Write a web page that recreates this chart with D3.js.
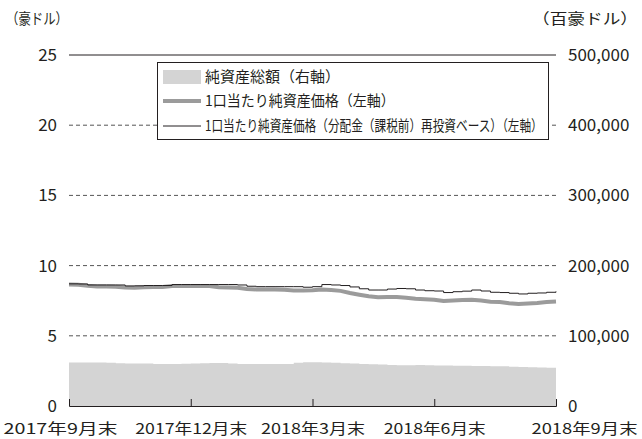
<!DOCTYPE html>
<html>
<head>
<meta charset="utf-8">
<script src="https://cdn.jsdelivr.net/npm/d3@7"></script>
<style>
  body { margin: 0; background: #fff; }
  text { font-family: "Noto Sans CJK JP", "Noto Sans", sans-serif; fill: #231f20; }
</style>
</head>
<body>
<div id="chart"></div>
<script>
// weekly dates (fridays)
var dates = ["2017-09-29","2017-10-06","2017-10-13","2017-10-20","2017-10-27","2017-11-03","2017-11-10","2017-11-17","2017-11-24",
  "2017-12-01","2017-12-08","2017-12-15","2017-12-22","2017-12-29","2018-01-05","2018-01-12","2018-01-19","2018-01-26",
  "2018-02-02","2018-02-09","2018-02-16","2018-02-23","2018-03-02","2018-03-09","2018-03-16","2018-03-23","2018-03-30",
  "2018-04-06","2018-04-13","2018-04-20","2018-04-27","2018-05-04","2018-05-11","2018-05-18","2018-05-25","2018-06-01",
  "2018-06-08","2018-06-15","2018-06-22","2018-06-29","2018-07-06","2018-07-13","2018-07-20","2018-07-27","2018-08-03",
  "2018-08-10","2018-08-17","2018-08-24","2018-08-31","2018-09-07","2018-09-14","2018-09-21","2018-09-28"];

// 純資産総額 (右軸, 百豪ドル)
var netAssets = [62000,62000,62000,61800,61500,61000,60500,60500,60500,60000,59800,59700,60200,60500,60800,61200,61200,60500,
  60000,59800,59800,59800,59800,59800,61500,62500,62500,62000,61500,61000,60500,60000,59500,59000,58500,58000,58000,58300,
  58000,57800,57700,57500,57300,57000,57000,56800,56500,56000,55600,55200,55000,54500,54200];

// 1口当たり純資産価格 (左軸)
var navPrice = [8.65,8.63,8.56,8.52,8.51,8.50,8.44,8.42,8.46,8.48,8.48,8.55,8.55,8.55,8.55,8.55,8.46,8.44,8.42,8.33,8.30,8.30,
  8.30,8.28,8.23,8.23,8.25,8.30,8.26,8.20,8.05,7.93,7.82,7.74,7.76,7.76,7.71,7.64,7.60,7.57,7.48,7.51,7.55,7.56,7.51,7.43,
  7.41,7.32,7.26,7.30,7.34,7.40,7.44];

// 1口当たり純資産価格 (分配金再投資ベース)
var navReinvest = [8.70,8.69,8.62,8.62,8.62,8.62,8.55,8.56,8.58,8.58,8.58,8.65,8.65,8.65,8.65,8.65,8.65,8.65,8.62,8.53,8.50,
  8.50,8.50,8.50,8.50,8.46,8.50,8.65,8.62,8.58,8.48,8.35,8.26,8.26,8.33,8.37,8.35,8.26,8.21,8.19,8.08,8.14,8.18,8.26,8.19,
  8.10,8.08,8.03,7.98,8.03,8.05,8.10,8.16];

var leftTicks = [0, 5, 10, 15, 20, 25];
var rightTicks = [0, 100000, 200000, 300000, 400000, 500000];
var xTickDates = ["2017-09-29", "2017-12-29", "2018-03-30", "2018-06-29", "2018-09-28"];
var xTickLabels = ["2017年9月末", "2017年12月末", "2018年3月末", "2018年6月末", "2018年9月末"];
var legendLabels = ["純資産総額（右軸）", "1口当たり純資産価格（左軸）", "1口当たり純資産価格（分配金（課税前）再投資ベース）（左軸）"];

var width = 642, height = 439;
var parse = d3.timeParse("%Y-%m-%d");

var svg = d3.select("#chart").append("svg")
    .attr("width", width)
    .attr("height", height);

var x = d3.scaleTime()
    .domain([parse(dates[0]), parse(dates[dates.length - 1])])
    .range([69, 556]);
var yL = d3.scaleLinear().domain([0, 25]).range([406, 55]);
var yR = d3.scaleLinear().domain([0, 500000]).range([406, 55]);

var data = dates.map(function(d, i) {
  return {date: parse(d), assets: netAssets[i], nav: navPrice[i], re: navReinvest[i]};
});

// gridlines
svg.append("g").selectAll("line")
  .data(leftTicks.slice(1))
  .enter().append("line")
    .attr("x1", 69).attr("x2", 556)
    .attr("y1", function(d) { return yL(d); })
    .attr("y2", function(d) { return yL(d); })
    .attr("stroke", function(d) { return d == 25 ? "#231f20" : "#555"; })
    .attr("stroke-width", 1)
    .attr("stroke-dasharray", function(d) { return d == 25 ? null : "4,3"; });

// area (right axis)
var area = d3.area()
    .x(function(d) { return x(d.date); })
    .y0(yR(0))
    .y1(function(d) { return yR(d.assets); })
    .curve(d3.curveStepAfter);
svg.append("path")
    .datum(data)
    .attr("d", area)
    .attr("fill", "#d4d4d4");

var navLine = d3.line()
    .x(function(d) { return x(d.date); })
    .y(function(d) { return yL(d.nav); });
svg.append("path")
    .datum(data)
    .attr("d", navLine)
    .attr("fill", "none")
    .attr("stroke", "#9b9b9b")
    .attr("stroke-width", 4);

var reLine = d3.line()
    .x(function(d) { return x(d.date); })
    .y(function(d) { return yL(d.re); })
    .curve(d3.curveStepAfter);
svg.append("path")
    .datum(data)
    .attr("d", reLine)
    .attr("fill", "none")
    .attr("stroke", "#231f20")
    .attr("stroke-width", 1);

// bottom axis
var labelShift = [-9, 0, 0, 0, 28];
var labelWidth = [114, 112, 104, 102, 106];
var xAxis = d3.axisBottom(x)
    .tickValues(xTickDates.map(parse))
    .tickFormat(function(d, i) { return xTickLabels[i]; })
    .tickSize(-7)
    .tickPadding(17);
var gx = svg.append("g")
    .attr("transform", "translate(0," + yL(0) + ")")
    .call(xAxis);
gx.select(".domain").attr("stroke", "#231f20");
gx.selectAll(".tick line").attr("stroke", "#231f20");
gx.selectAll(".tick text")
    .style("font-size", "15px")
    .attr("fill", "#231f20")
    .attr("x", function(d, i) { return labelShift[i]; })
    .attr("textLength", function(d, i) { return labelWidth[i]; })
    .attr("lengthAdjust", "spacingAndGlyphs");

// left axis
var gl = svg.append("g")
    .attr("transform", "translate(69,0)")
    .call(d3.axisLeft(yL).tickValues(leftTicks).tickSize(0).tickPadding(12));
gl.select(".domain").remove();
gl.selectAll(".tick text").style("font-size", "17px").attr("fill", "#231f20");

// right axis
var gr = svg.append("g")
    .attr("transform", "translate(556,0)")
    .call(d3.axisRight(yR).tickValues(rightTicks).tickFormat(d3.format(",")).tickSize(0).tickPadding(12));
gr.select(".domain").remove();
gr.selectAll(".tick text").style("font-size", "17px").attr("fill", "#231f20");

// unit labels
svg.append("text")
    .attr("x", 6).attr("y", 24)
    .style("font-size", "15px")
    .text("（豪ドル）")
    .attr("textLength", 62).attr("lengthAdjust", "spacingAndGlyphs");
svg.append("text")
    .attr("x", 532).attr("y", 24)
    .style("font-size", "15px")
    .text("（百豪ドル）")
    .attr("textLength", 106).attr("lengthAdjust", "spacingAndGlyphs");

// legend
var legend = svg.append("g");
legend.append("rect")
    .attr("x", 157.5).attr("y", 62.5)
    .attr("width", 391).attr("height", 77)
    .attr("fill", "#fff")
    .attr("stroke", "#231f20");

var rowY = [77, 101, 126];
legend.append("rect")
    .attr("x", 163).attr("y", rowY[0] - 7)
    .attr("width", 38).attr("height", 14)
    .attr("fill", "#d4d4d4");
legend.append("line")
    .attr("x1", 163).attr("x2", 201)
    .attr("y1", rowY[1]).attr("y2", rowY[1])
    .attr("stroke", "#9b9b9b").attr("stroke-width", 4);
legend.append("line")
    .attr("x1", 163).attr("x2", 201)
    .attr("y1", rowY[2]).attr("y2", rowY[2])
    .attr("stroke", "#231f20").attr("stroke-width", 1);

// squeeze the labels horizontally (the original uses a condensed face)
var legendWidths = [140, 190, 338];
legend.selectAll("text.lab")
  .data(legendLabels)
  .enter().append("text")
    .attr("class", "lab")
    .attr("dy", "0.35em")
    .style("font-size", "15px")
    .text(function(d) { return d; })
    .attr("transform", function(d, i) {
      var w = this.getComputedTextLength();
      var sx = Math.min(1, legendWidths[i] / w);
      return "translate(205," + rowY[i] + ") scale(" + sx + ",1)";
    });
</script>
</body>
</html>
